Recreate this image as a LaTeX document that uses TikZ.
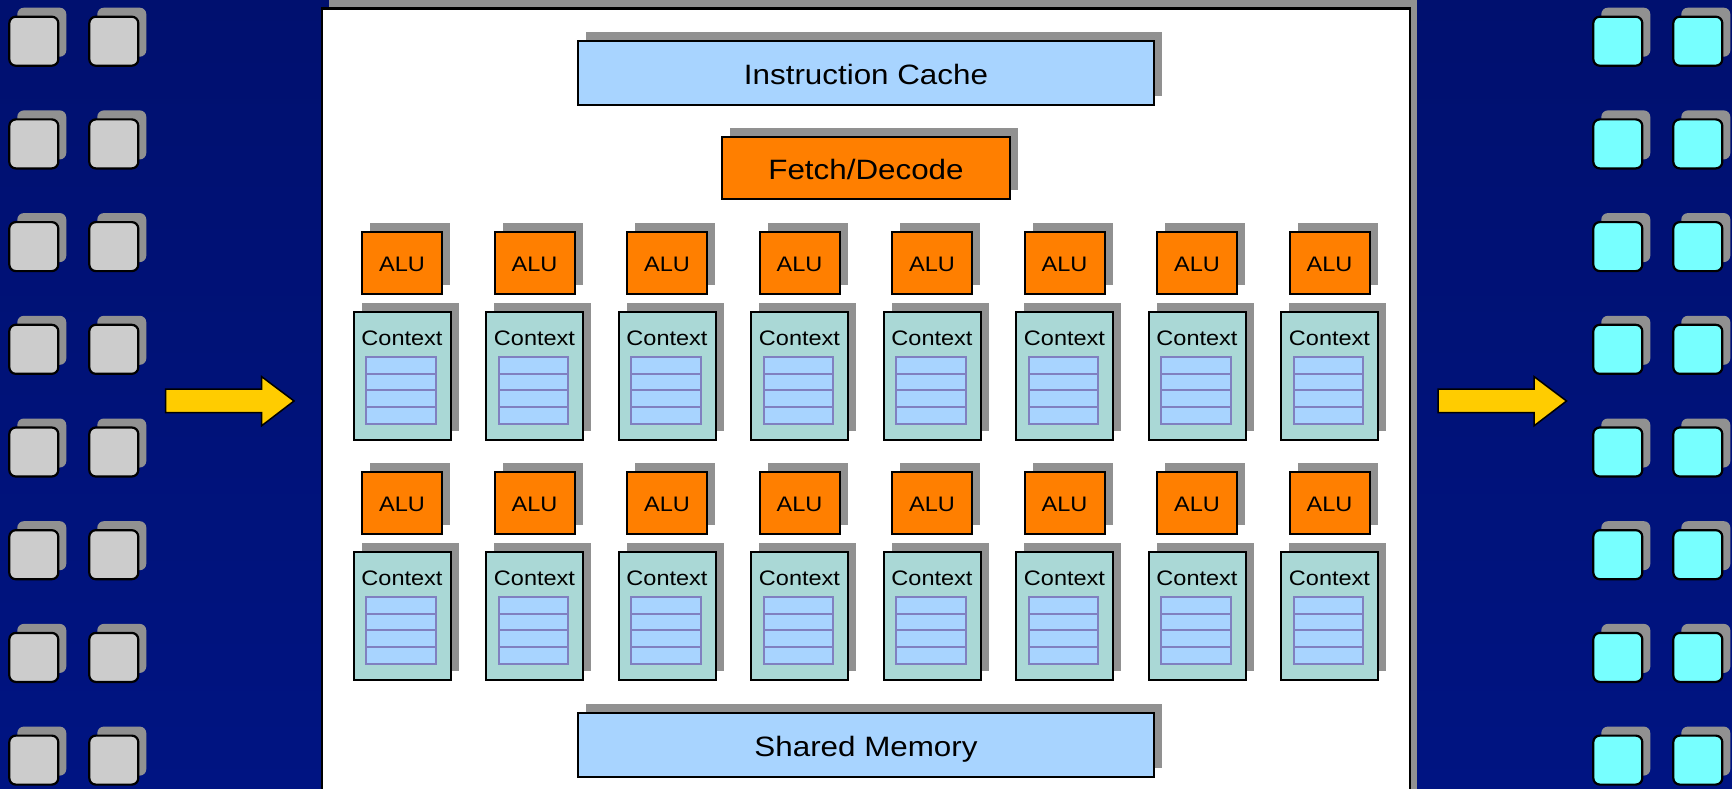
\documentclass[tikz,border=0pt]{standalone}
\usepackage{fontspec}
\setmainfont{Liberation Sans}
\newfontfamily\widesans[FakeStretch=1.12]{Liberation Sans}
\usetikzlibrary{shadows,calc}
\definecolor{bgtop}{HTML}{00106F}
\definecolor{bgmid}{HTML}{001A9E}
\definecolor{bgbot}{HTML}{001482}
\definecolor{shadowgray}{HTML}{919191}
\definecolor{icblue}{HTML}{A8D4FF}
\definecolor{aluor}{HTML}{FF7F00}
\definecolor{ctxcol}{HTML}{AAD8D6}
\definecolor{tblborder}{HTML}{8080C0}
\definecolor{sqgray}{HTML}{CCCCCC}
\definecolor{sqcyan}{HTML}{77FFFF}
\definecolor{arrowyel}{HTML}{FFCC00}
\begin{document}
\begin{tikzpicture}[x=1pt,y=-1pt,
  shd/.style={general shadow={fill=shadowgray,shadow xshift=8pt,shadow yshift=9pt}},
  box/.style={draw=black,line width=2pt,inner sep=0pt,outer sep=0pt,anchor=north west,shd},
  bigtxt/.style={font=\widesans\fontsize{28}{32}\selectfont,text height=23pt,text depth=0pt},
  smalltxt/.style={font=\widesans\fontsize{21}{25}\selectfont},
  alubox/.style={box,fill=aluor,minimum width=80pt,minimum height=62pt,smalltxt,text height=18.4pt,text depth=0pt},
  ctxbox/.style={box,fill=ctxcol,minimum width=97pt,minimum height=128pt},
  cell/.style={draw=tblborder,line width=2pt,fill=icblue,inner sep=0pt,outer sep=0pt,anchor=north west,minimum width=69.7pt,minimum height=16.8pt},
  sq/.style={draw=black,line width=2.2pt,rounded corners=6.5pt,inner sep=0pt,outer sep=0pt,anchor=north west,minimum width=49pt,minimum height=49pt,general shadow={fill=shadowgray,shadow xshift=8pt,shadow yshift=9pt}},
  yarrow/.style={draw=black,line width=1.5pt,fill=arrowyel,line join=miter}
]
\useasboundingbox (0,0) rectangle (1732,789);
\shade[top color=bgtop,middle color=bgmid,bottom color=bgbot] (0,0) rectangle (1732,789);
\clip (0,0) rectangle (1732,789);

% central panel
\node[draw=black,line width=2.7pt,fill=white,inner sep=0pt,outer sep=0pt,anchor=north west,
  minimum width=1088pt,minimum height=820pt,
  general shadow={fill=shadowgray,shadow xshift=7pt,shadow yshift=8.5pt}] (panel) at (322,8.5) {};

\node[box,fill=icblue,minimum width=576.6pt,minimum height=64pt,bigtxt] (ic) at (577.7,40.9) {Instruction Cache};
\node[box,fill=aluor,minimum width=287.2pt,minimum height=61.8pt,bigtxt] (fd) at (722.4,137) {Fetch/Decode};
\node[box,fill=icblue,minimum width=576.6pt,minimum height=64pt,bigtxt] (sm) at (577.7,712.5) {Shared Memory};

\foreach \r in {0,1}{
  \foreach \i in {0,...,7}{
    \node[alubox] (alu-\r-\i) at ({362+132.5*\i},{231.7+240*\r}) {ALU};
    \node[ctxbox] (ctx-\r-\i) at ({353.5+132.5*\i},{311.5+240*\r}) {};
    \node[smalltxt,inner sep=0pt,anchor=base] (ctxl-\r-\i) at ($(ctx-\r-\i.north)+(0,34.2)$) {Context};
    \foreach \k in {0,...,3}{
      \node[cell] (cell-\r-\i-\k) at ($(ctx-\r-\i.north west)+(12.5,{45.2+16.8*\k})$) {};
    }
  }
}

% thread squares
\foreach \k in {0,...,7}{
  \node[sq,fill=sqgray] (inA-\k) at (9.3,{16.7+102.7*\k}) {};
  \node[sq,fill=sqgray] (inB-\k) at (89.3,{16.7+102.7*\k}) {};
  \node[sq,fill=sqcyan] (outA-\k) at (1593.3,{16.7+102.7*\k}) {};
  \node[sq,fill=sqcyan] (outB-\k) at (1673.3,{16.7+102.7*\k}) {};
}

% arrows
\draw[yarrow] (165.7,389) -- (261.7,389) -- (261.7,376.7) -- (294,401) -- (261.7,425.7) -- (261.7,412.7) -- (165.7,412.7) -- cycle;
\begin{scope}[xshift=1272.5pt]
\draw[yarrow] (165.7,389) -- (261.7,389) -- (261.7,376.7) -- (294,401) -- (261.7,425.7) -- (261.7,412.7) -- (165.7,412.7) -- cycle;
\end{scope}
\end{tikzpicture}
\end{document}
